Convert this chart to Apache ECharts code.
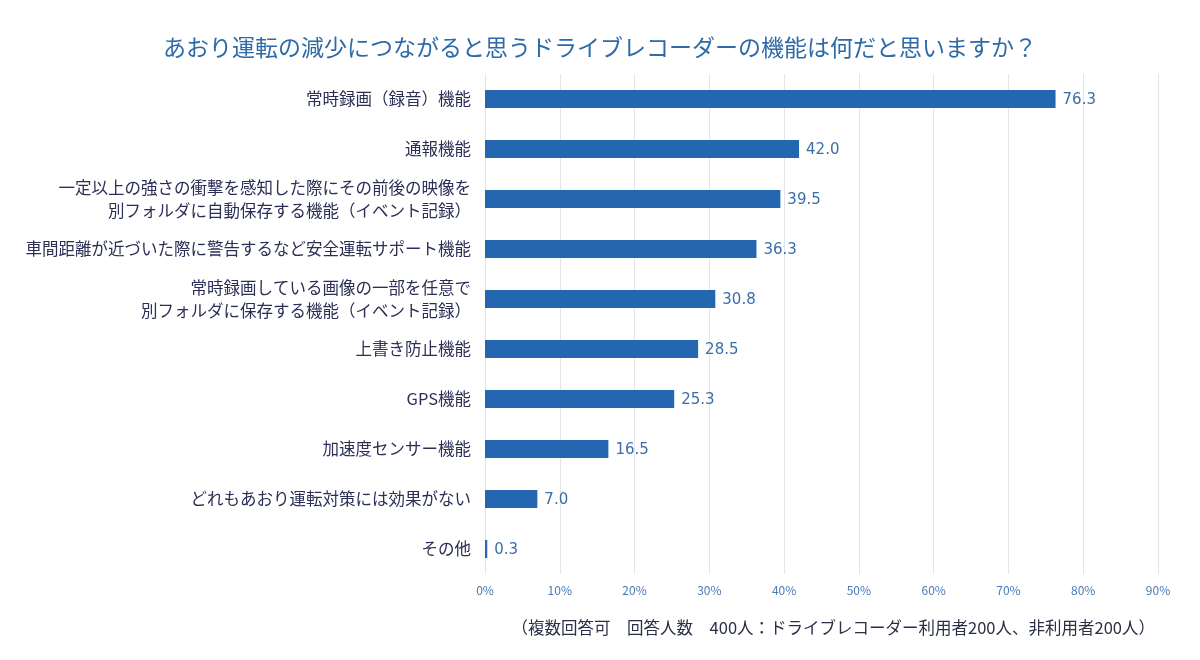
<!DOCTYPE html>
<html>
<head>
<meta charset="utf-8">
<script src="https://cdn.jsdelivr.net/npm/echarts@6/dist/echarts.min.js"></script>
<style>
  html, body { margin: 0; padding: 0; background: #fff; }
  #main { width: 1200px; height: 660px; }
</style>
</head>
<body>
<div id="main"></div>
<script>
// 項目（上から順）
var categories = [
    '常時録画（録音）機能',
    '通報機能',
    '一定以上の強さの衝撃を感知した際にその前後の映像を\n別フォルダに自動保存する機能（イベント記録）',
    '車間距離が近づいた際に警告するなど安全運転サポート機能',
    '常時録画している画像の一部を任意で\n別フォルダに保存する機能（イベント記録）',
    '上書き防止機能',
    'GPS機能',
    '加速度センサー機能',
    'どれもあおり運転対策には効果がない',
    'その他'
];
// 割合(%)
var values = [76.3, 42.0, 39.5, 36.3, 30.8, 28.5, 25.3, 16.5, 7.0, 0.3];
var xTicks = [0, 10, 20, 30, 40, 50, 60, 70, 80, 90];

var titleText = 'あおり運転の減少につながると思うドライブレコーダーの機能は何だと思いますか？';
var noteText = '（複数回答可　回答人数　400人：ドライブレコーダー利用者200人、非利用者200人）';

var jpFont = '"Noto Sans CJK JP", "Noto Sans", sans-serif';

var chart = echarts.init(document.getElementById('main'), null, { renderer: 'canvas' });

var option = {
    backgroundColor: '#ffffff',
    animation: false,
    title: [{
        text: titleText,
        left: 'center',
        top: 31,
        textStyle: { color: '#2e6aa8', fontSize: 23, fontWeight: 'normal', fontFamily: jpFont }
    }, {
        text: noteText,
        right: 40,
        top: 614,
        textStyle: { color: '#2b2f45', fontSize: 16.5, fontWeight: 'normal', fontFamily: jpFont }
    }],
    grid: { left: 485, right: 42, top: 74, bottom: 86 },
    xAxis: {
        type: 'value',
        min: 0,
        max: xTicks[xTicks.length - 1],
        interval: 10,
        axisLine: { show: false },
        axisTick: { show: false },
        axisLabel: {
            color: '#4a7ab5',
            fontSize: 12,
            margin: 10,
            fontFamily: jpFont,
            formatter: function (v) { return v + '%'; }
        },
        splitLine: { show: true, lineStyle: { color: '#e3e3ec', width: 1 } }
    },
    yAxis: {
        type: 'category',
        inverse: true,
        data: categories,
        axisLine: { show: true, lineStyle: { color: '#e3e3ec' } },
        axisTick: { show: false },
        axisLabel: {
            color: '#2b2f55',
            fontSize: 16.5,
            margin: 14,
            lineHeight: 23,
            align: 'right',
            fontFamily: jpFont
        }
    },
    series: [{
        type: 'bar',
        data: values,
        barWidth: 18,
        itemStyle: { color: '#2566b0' },
        label: {
            show: true,
            position: 'right',
            distance: 7,
            offset: [0, 1],
            color: '#3b6ea8',
            fontSize: 15,
            fontFamily: '"DejaVu Sans", sans-serif',
            formatter: function (p) { return p.value.toFixed(1); }
        }
    }]
};

chart.setOption(option);
</script>
</body>
</html>
